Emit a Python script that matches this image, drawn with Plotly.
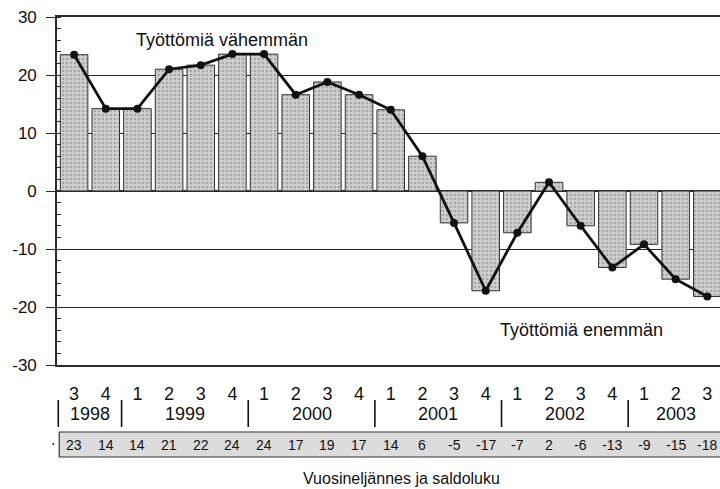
import plotly.graph_objects as go

# ---- data ----
quarters = ["3", "4", "1", "2", "3", "4", "1", "2", "3", "4", "1", "2", "3", "4",
            "1", "2", "3", "4", "1", "2", "3"]
years = ["1998", "1999", "2000", "2001", "2002", "2003"]
year_quarter_counts = [2, 4, 4, 4, 4, 3]
values = [23.5, 14.2, 14.2, 21.0, 21.7, 23.6, 23.6, 16.6, 18.8, 16.6, 14.0,
          6.0, -5.5, -17.2, -7.2, 1.5, -6.0, -13.2, -9.2, -15.2, -18.2]
table_labels = ["23", "14", "14", "21", "22", "24", "24", "17", "19", "17", "14",
                "6", "-5", "-17", "-7", "2", "-6", "-13", "-9", "-15", "-18"]
y_ticks = [-30, -20, -10, 0, 10, 20, 30]
label_more_jobs = "Työttömiä vähemmän"
label_less_jobs = "Työttömiä enemmän"
x_title = "Vuosineljännes ja saldoluku"

x = list(range(len(values)))
FONT = "Liberation Sans Narrow, Arial Narrow, Liberation Sans, Arial, sans-serif"
DARK = "#111111"
GRID = "#2a2a2a"

fig = go.Figure()
fig.add_trace(go.Bar(
    x=x, y=values, width=0.87,
    marker=dict(color="#c4c4c4", line=dict(color="#333333", width=1),
                pattern=dict(shape=".", fgcolor="#808080", bgcolor="#d0d0d0",
                             size=4, solidity=0.35)),
    hoverinfo="skip", showlegend=False))
fig.add_trace(go.Scatter(
    x=x, y=values, mode="lines+markers",
    line=dict(color="#111111", width=2.8),
    marker=dict(color="#111111", size=8),
    showlegend=False))

# annotations inside plot
fig.add_annotation(x=4.67, y=26.0, text=label_more_jobs, showarrow=False,
                   font=dict(family=FONT, size=18, color=DARK))
fig.add_annotation(x=16.04, y=-24.0, text=label_less_jobs, showarrow=False,
                   font=dict(family=FONT, size=18, color=DARK))

# year row and separators
start = 0
for yr, n in zip(years, year_quarter_counts):
    center = start + (n - 1) / 2
    fig.add_annotation(x=center, y=-0.14, xref="x", yref="paper", text=yr,
                       showarrow=False, yanchor="middle",
                       font=dict(family=FONT, size=18, color=DARK))
    fig.add_shape(type="line", x0=start - 0.5, x1=start - 0.5, xref="x",
                  y0=-0.178, y1=-0.1006, yref="paper",
                  line=dict(color=DARK, width=1.6))
    start += n

# table box
fig.add_shape(type="rect", x0=-0.47, x1=20.9, xref="x", y0=-0.2644, y1=-0.1925,
              yref="paper", line=dict(color="#333333", width=1.2),
              fillcolor="#dcdcdc", layer="below")
for xi, lab in zip(x, table_labels):
    fig.add_annotation(x=xi, y=-0.229, xref="x", yref="paper", text=lab,
                       showarrow=False, yanchor="middle",
                       font=dict(family=FONT, size=14, color=DARK))
fig.add_annotation(x=-0.012, y=-0.245, xref="paper", yref="paper", text=".",
                   showarrow=False, font=dict(family=FONT, size=16, color=DARK))

fig.add_annotation(x=0.52, y=-0.325, xref="paper", yref="paper", text=x_title,
                   showarrow=False, yanchor="middle",
                   font=dict(family=FONT, size=16, color=DARK))

fig.update_layout(
    width=720, height=489,
    margin=dict(l=57, r=0, t=17, b=124),
    paper_bgcolor="white", plot_bgcolor="white",
    bargap=0.13,
    font=dict(family=FONT, color=DARK),
    xaxis=dict(range=[-0.54, 20.4], tickmode="array", tickvals=x,
               ticktext=quarters, showgrid=False, zeroline=False,
               showline=True, mirror=True, linecolor=GRID, linewidth=1.6,
               ticks="", ticklabelstandoff=12,
               tickfont=dict(family=FONT, size=18, color=DARK)),
    yaxis=dict(range=[-30, 30], tickmode="array",
               tickvals=y_ticks,
               ticktext=[str(v) for v in y_ticks],
               showgrid=True, gridcolor=GRID, gridwidth=1.4,
               zeroline=True, zerolinecolor=GRID, zerolinewidth=1.6,
               showline=True, linecolor=GRID, linewidth=1.6,
               ticks="outside", ticklen=9, tickcolor=GRID, tickwidth=1.4,
               minor=dict(ticks="inside", dtick=2, tick0=0, ticklen=4,
                          tickcolor=GRID, tickwidth=1, showgrid=False),
               ticklabelstandoff=6,
               tickfont=dict(family=FONT, size=17, color=DARK)),
)

fig.write_html("out.html", config={"displayModeBar": False},
               post_script="document.body.style.margin='0';"
                           "document.body.style.overflow='hidden';")
